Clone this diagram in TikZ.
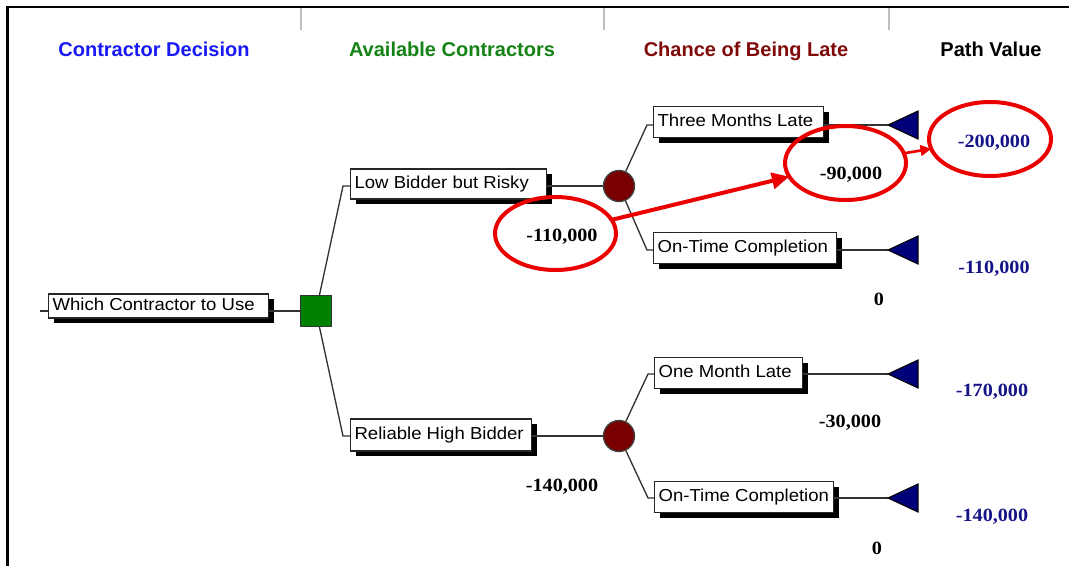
\documentclass[tikz,border=0pt]{standalone}
\usepackage{fontspec}
\setmainfont{Liberation Sans}
\newfontfamily\boxfont[FakeStretch=1.07]{Liberation Sans}
\newfontfamily\numfont[FakeStretch=1.08]{Liberation Serif}
\usetikzlibrary{shapes.geometric, shadows, arrows.meta, calc}

\definecolor{hdblue}{RGB}{25,25,245}
\definecolor{hdgreen}{RGB}{20,130,20}
\definecolor{hdred}{RGB}{128,10,10}
\definecolor{pathblue}{RGB}{20,20,135}
\definecolor{decgreen}{RGB}{0,128,0}
\definecolor{chancered}{RGB}{120,0,0}
\definecolor{termblue}{RGB}{0,0,120}
\definecolor{markred}{RGB}{235,0,0}

% left-aligned label text in a box of fixed width
\newcommand\boxlabel[2]{\makebox[#1][l]{#2}}

\begin{document}
\begin{tikzpicture}[x=0.75pt, y=-0.75pt,
  hdr/.style={font=\fontsize{15pt}{17pt}\selectfont\bfseries, inner sep=0pt, anchor=base},
  optbox/.style={draw=black!85, line width=0.9pt, fill=white,
    font=\boxfont\fontsize{13pt}{15pt}\selectfont,
    text height=9.5pt, text depth=2.5pt,
    inner xsep=3pt, inner ysep=0pt, minimum height=23.25pt, anchor=west,
    drop shadow={shadow xshift=3.75pt, shadow yshift=-3.75pt, fill=black, opacity=1}},
  link/.style={draw=black!80, line width=1pt},
  decnode/.style={rectangle, draw=black!80, line width=1pt, fill=decgreen,
    minimum size=23.25pt, inner sep=0pt},
  chancenode/.style={circle, draw=black!75, line width=1pt, fill=chancered,
    minimum size=23.25pt, inner sep=0pt},
  term/.style={draw=black, line width=0.8pt, fill=termblue, line join=miter},
  val/.style={font=\numfont\bfseries\fontsize{14pt}{16pt}\selectfont, inner sep=0pt},
  pathval/.style={val, text=pathblue},
  ring/.style={ellipse, draw=markred, line width=3pt, inner sep=0pt, outer sep=0pt},
  pointer/.style={draw=markred, line width=3pt, -{Triangle[length=13pt,width=12pt]}}
]
\useasboundingbox (0,0) rectangle (1069,565);

% window frame and column separators
\draw[line width=1.9pt] (7.5,566) -- (7.5,7) -- (1070,7);
\foreach \x in {301,604,889}
  \draw[black!25, line width=0.9pt] (\x,8) -- (\x,30);

% column headers
\node[hdr, text=hdblue]  (h1) at (154,56) {Contractor Decision};
\node[hdr, text=hdgreen] (h2) at (452,56) {Available Contractors};
\node[hdr, text=hdred]   (h3) at (746,56) {Chance of Being Late};
\node[hdr, text=black]   (h4) at (991,56) {Path Value};

% decision and chance nodes
\node[decnode] (dec) at (316,311) {};
\node[chancenode] (c1) at (619,186) {};
\node[chancenode] (c2) at (619,436) {};

% terminal points
\coordinate (t1) at (888,125);
\coordinate (t2) at (888,250);
\coordinate (t3) at (888,374);
\coordinate (t4) at (888,498);
\coordinate (stub) at (40,311);

% branch labels
\node[optbox, minimum height=18pt] (which) at (48,306) {\boxlabel{159pt}{Which Contractor to Use}};
\node[optbox, minimum height=22.5pt] (low) at (350,184) {\boxlabel{141pt}{Low Bidder but Risky}};
\node[optbox, minimum height=24pt] (rel) at (350,435) {\boxlabel{129.75pt}{Reliable High Bidder}};
\node[optbox] (three) at (653,122) {\boxlabel{121.5pt}{Three Months Late}};
\node[optbox] (on1) at (653,248) {\boxlabel{131.25pt}{On-Time Completion}};
\node[optbox] (one) at (654,373) {\boxlabel{105pt}{One Month Late}};
\node[optbox] (on2) at (654,497) {\boxlabel{128.25pt}{On-Time Completion}};

% connectors
\draw[link] (stub) -- (which.west |- stub);
\draw[link] (which.east |- dec) -- (dec);
\draw[link] (dec) -- ($(low.west |- c1)+(-7,0)$) -- (low.west |- c1);
\draw[link] (dec) -- ($(rel.west |- c2)+(-7,0)$) -- (rel.west |- c2);
\draw[link] (low.east |- c1) -- (c1);
\draw[link] (rel.east |- c2) -- (c2);
\draw[link] (c1) -- ($(three.west |- t1)+(-6,0)$) -- (three.west |- t1);
\draw[link] (c1) -- ($(on1.west |- t2)+(-6,0)$) -- (on1.west |- t2);
\draw[link] (c2) -- ($(one.west |- t3)+(-6,0)$) -- (one.west |- t3);
\draw[link] (c2) -- ($(on2.west |- t4)+(-6,0)$) -- (on2.west |- t4);
\draw[link] (three.east |- t1) -- (t1);
\draw[link] (on1.east |- t2) -- (t2);
\draw[link] (one.east |- t3) -- (t3);
\draw[link] (on2.east |- t4) -- (t4);

% end-point triangles
\foreach \t in {t1,t2,t3,t4}
  \filldraw[term] (\t) -- ++(30,-14) -- ++(0,28) -- cycle;

% values
\node[val] (v1) at (562,237) {-110,000};
\node[val] (v2) at (851,175) {-90,000};
\node[val] (v3) at (879,299) {0};
\node[val] (v4) at (562,487) {-140,000};
\node[val] (v5) at (850,423) {-30,000};
\node[val] (v6) at (877,548) {0};
\node[pathval] (p1) at (994,143) {-200,000};
\node[pathval] (p2) at (994,269) {-110,000};
\node[pathval] (p3) at (992,392) {-170,000};
\node[pathval] (p4) at (992,517) {-140,000};

% highlight rings and pointers
\node[ring, minimum width=90.75pt, minimum height=54.75pt] (r1) at (555.5,233.5) {};
\node[ring, minimum width=90.75pt, minimum height=55.5pt] (r2) at (845.5,163) {};
\node[ring, minimum width=91.5pt, minimum height=55.5pt] (r3) at (990,139) {};
\draw[pointer] (r1) -- (r2);
\draw[pointer, line width=2pt, -{Triangle[length=8pt,width=8pt]}] (r2) -- (r3);
\end{tikzpicture}
\end{document}
